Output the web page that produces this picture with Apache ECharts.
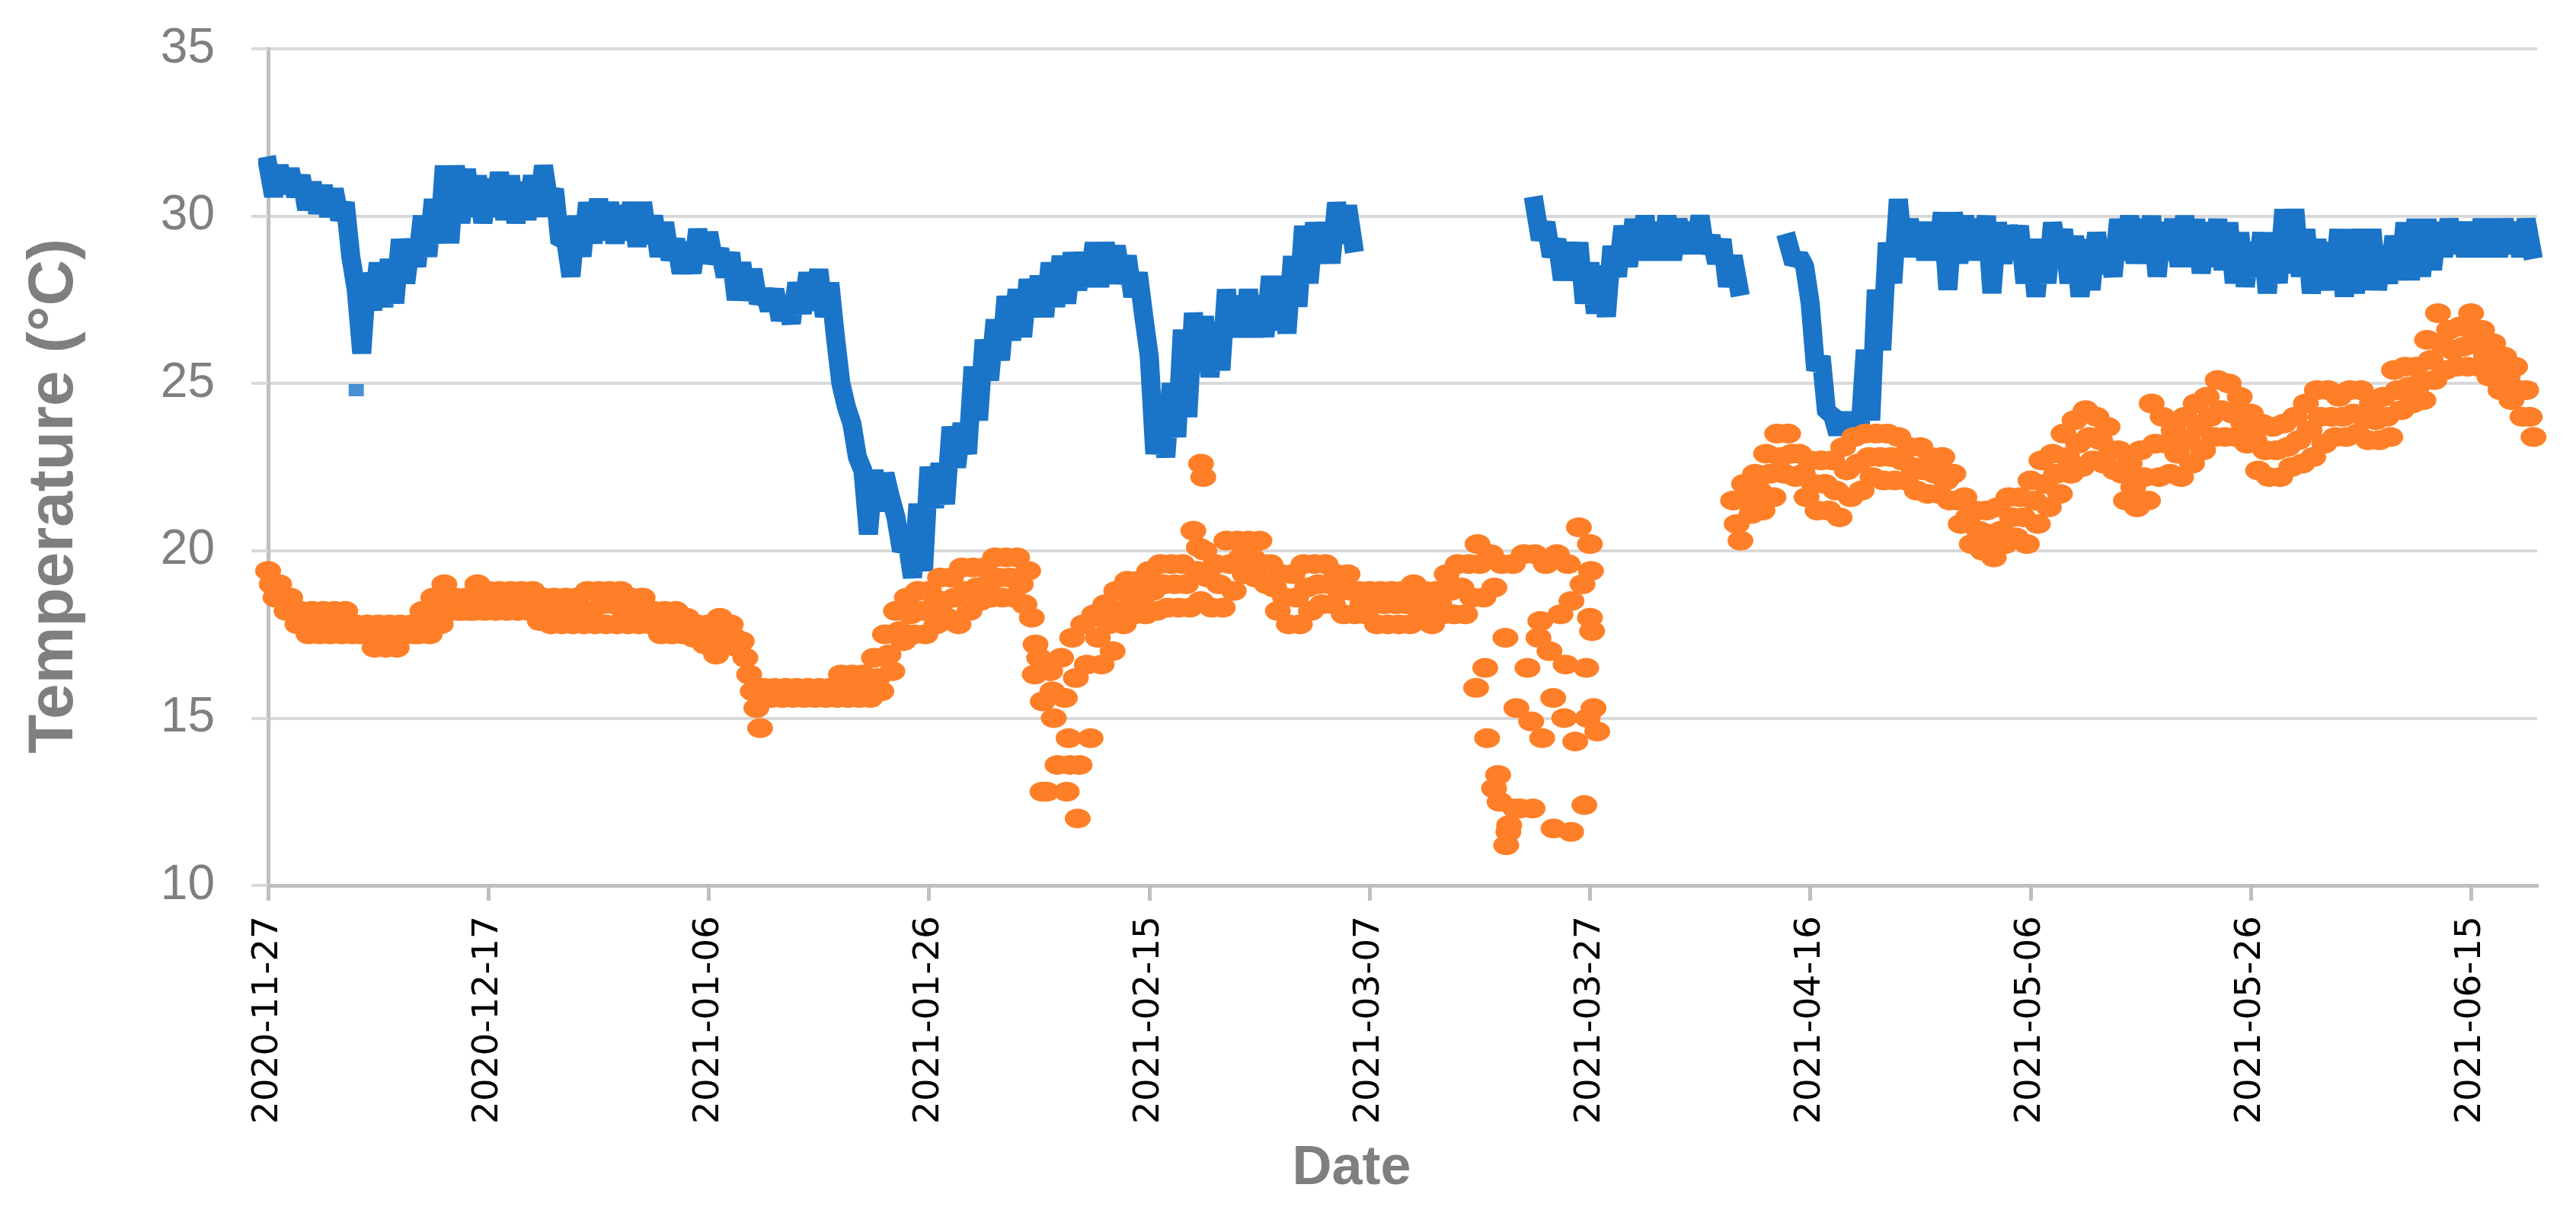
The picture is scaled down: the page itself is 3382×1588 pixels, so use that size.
<!DOCTYPE html>
<html>
<head>
<meta charset="utf-8">
<script src="https://cdn.jsdelivr.net/npm/echarts@6/dist/echarts.min.js"></script>
<style>
html,body{margin:0;padding:0;background:#fff;}
#chart{width:3382px;height:1588px;}
</style>
</head>
<body>
<div id="chart"></div>
<script>
// ---- DATA (one value per day, day 0 = 2020-11-27) ----
const startDate = '2020-11-27';
const xTickLabels = ['2020-11-27','2020-12-17','2021-01-06','2021-01-26','2021-02-15','2021-03-07','2021-03-27','2021-04-16','2021-05-06','2021-05-26','2021-06-15'];
const xEndDate = '2021-06-21';
const yTicks = [10, 15, 20, 25, 30, 35];

// Blue series: daily high / daily low readings (°C), null = no data
const blueHi = [
31.5,31.5,31.4,31.2,31.0,30.9,30.8,30.4,27.8,28.3,
28.6,28.7,29.3,29.3,30.0,30.5,31.5,31.5,31.4,31.2,
31.1,31.3,31.2,31.0,31.2,31.5,30.8,29.3,30.0,30.4,
30.5,30.4,30.3,30.4,30.4,30.0,29.8,29.3,29.2,29.6,
29.5,29.0,28.9,28.6,28.4,27.8,27.8,27.5,28.0,28.3,
28.4,28.0,25.0,23.8,22.4,22.4,22.3,21.0,20.3,21.4,
22.5,22.6,23.7,23.8,25.5,26.3,26.9,27.6,27.8,28.1,
28.2,28.6,28.8,28.9,28.9,29.2,29.2,29.1,28.8,28.3,
25.8,24.3,25.0,26.6,27.1,27.0,26.8,27.8,27.6,27.8,
27.6,28.2,28.2,28.8,29.7,29.8,29.8,30.4,30.3,null,
null,null,null,null,null,null,null,null,null,null,
null,null,null,null,null,30.3,29.8,29.3,29.2,29.2,
28.6,28.5,29.1,29.7,29.9,30.0,29.8,30.0,29.9,29.8,
30.0,29.4,29.3,28.8,null,null,null,null,29.2,28.8,
27.4,25.8,24.1,24.1,24.0,26.0,27.8,29.2,30.5,29.9,
29.8,29.8,30.1,30.1,30.0,29.9,30.0,29.8,29.7,29.7,
29.3,29.3,29.8,29.6,29.4,29.3,29.5,29.2,29.9,30.0,
29.9,30.0,29.8,29.9,30.0,29.9,29.8,29.9,29.8,29.5,
29.2,29.5,29.5,30.2,30.2,29.6,29.3,29.2,29.6,29.6,
29.6,29.6,29.1,29.4,29.8,29.9,29.9,29.8,29.9,29.8,
29.8,29.9,29.9,29.9,29.8,29.9
];
const blueLo = [
30.6,30.7,30.6,30.2,30.1,30.0,29.9,28.8,25.9,27.2,
27.3,27.4,28.0,28.5,28.8,29.2,29.2,29.8,30.0,29.8,
30.0,29.9,29.8,29.9,30.0,30.4,29.2,28.2,28.8,29.2,
29.3,29.2,29.3,29.1,29.2,28.8,28.7,28.3,28.3,28.6,
28.6,28.2,27.5,27.5,27.4,27.2,26.9,26.8,27.1,27.2,
27.0,26.4,24.3,22.8,20.5,21.2,21.6,20.0,19.2,19.4,
21.3,21.4,22.5,22.9,23.9,25.1,25.7,26.3,26.4,27.0,
27.0,27.3,27.4,27.8,27.9,27.9,28.0,28.0,27.6,27.0,
22.9,22.8,23.4,24.0,25.6,25.2,25.4,26.4,26.4,26.4,
26.4,26.6,26.5,27.3,28.0,28.6,28.6,29.2,29.2,null,
null,null,null,null,null,null,null,null,null,null,
null,null,null,null,null,29.3,28.8,28.1,28.1,27.4,
27.1,27.0,28.2,28.5,28.7,28.7,28.7,28.7,28.9,28.9,
28.9,28.6,27.9,27.9,null,null,null,null,28.6,28.5,
25.4,24.1,23.5,23.5,23.5,23.9,26.0,28.0,28.8,28.8,
28.7,28.7,27.8,28.6,28.7,28.7,27.7,28.6,28.9,28.0,
27.6,28.0,28.7,28.0,27.6,27.8,28.3,28.2,28.7,28.6,
28.6,28.2,28.7,28.5,28.5,28.3,28.5,28.4,28.0,27.9,
28.2,27.7,28.0,28.3,28.2,27.7,27.8,27.8,27.6,27.7,
27.8,27.8,28.0,28.1,28.1,28.2,28.4,28.8,28.9,28.8,
28.8,28.8,28.8,28.9,28.8,29.0
];
// isolated blue reading
const blueExtraDays = [8.0];
const blueExtraVals = [24.8];

// Orange series: three readings per day (high, middle, low), null = no data
const orangeHi = [
19.4,19.0,18.6,18.2,18.2,18.2,18.2,18.2,17.8,17.8,
17.8,17.8,17.8,17.8,18.2,18.6,19.0,18.6,18.6,19.0,
18.8,18.8,18.8,18.8,18.8,18.6,18.6,18.6,18.6,18.8,
18.8,18.8,18.8,18.6,18.6,18.2,18.2,18.2,18.0,17.8,
17.8,18.0,17.8,17.3,15.8,15.9,15.9,15.9,15.9,15.9,
15.9,15.9,16.3,16.3,16.3,16.8,17.5,18.2,18.6,18.8,
18.8,19.2,19.2,19.5,19.5,19.5,19.8,19.8,19.8,19.4,
16.8,16.4,16.8,17.4,17.8,18.1,18.4,18.8,19.1,19.1,
19.4,19.6,19.6,19.6,20.6,20.0,19.6,20.3,20.3,20.3,
20.3,19.6,19.3,19.3,19.6,19.6,19.6,19.3,19.3,18.8,
18.8,18.8,18.8,18.8,19.0,18.8,18.8,19.3,19.6,19.6,
19.6,19.9,19.6,19.6,19.9,19.9,19.6,19.9,19.6,20.7,
18.0,null,null,null,null,null,null,null,null,null,
null,null,null,21.5,22.0,22.3,22.9,23.5,23.5,22.9,
22.7,22.7,22.7,23.1,23.4,23.5,23.5,23.5,23.4,23.1,
23.1,22.8,22.8,22.3,21.6,21.2,21.2,21.3,21.6,21.6,
22.1,22.7,22.9,23.5,23.9,24.2,24.0,23.7,23.0,22.6,
23.0,24.4,24.0,23.6,24.0,24.4,24.6,25.1,25.0,24.6,
24.1,23.8,23.7,23.8,24.0,24.4,24.8,24.8,24.6,24.8,
24.8,24.4,24.6,25.4,25.5,25.5,26.3,27.1,26.6,26.7,
27.1,26.6,26.2,25.8,25.5,24.8
];
const orangeMid = [
19.0,18.6,18.2,17.8,17.8,17.8,17.8,17.8,17.5,17.5,
17.5,17.5,17.5,17.5,17.8,18.2,18.6,18.2,18.2,18.6,
18.5,18.5,18.5,18.5,18.5,18.2,18.2,18.2,18.2,18.2,
18.4,18.4,18.2,18.2,18.2,17.8,17.8,17.8,17.7,17.4,
17.4,17.6,17.4,16.8,15.3,15.7,15.7,15.7,15.7,15.7,
15.7,15.7,15.9,15.9,15.9,16.2,16.9,17.6,18.1,18.2,
18.3,18.5,18.6,18.8,18.9,19.0,19.2,19.2,19.0,18.0,
15.5,15.0,15.6,16.2,16.6,17.4,17.8,18.2,18.6,18.6,
18.8,19.0,19.0,19.0,19.4,19.2,19.0,19.6,19.8,19.8,
19.6,18.9,18.6,18.6,18.9,19.0,19.0,18.8,18.8,18.4,
18.4,18.4,18.4,18.4,18.5,18.4,18.4,18.8,18.9,18.6,
18.6,18.9,17.4,15.3,16.5,17.4,17.0,18.1,18.5,19.0,
15.3,null,null,null,null,null,null,null,null,null,
null,null,null,20.8,21.5,21.8,22.3,22.8,22.9,22.3,
22.0,22.0,21.8,22.4,22.6,22.8,22.8,22.8,22.7,22.5,
22.4,22.3,22.1,21.5,21.0,20.6,20.5,20.6,21.0,21.0,
21.5,22.0,22.3,22.8,23.2,23.4,23.3,23.0,22.3,21.9,
22.2,23.2,23.2,22.9,23.3,23.7,24.0,24.2,24.1,23.8,
23.3,23.0,23.0,23.1,23.3,23.6,24.0,24.0,24.0,24.1,
24.0,23.9,24.0,24.8,24.9,25.0,25.7,26.2,26.0,26.1,
26.3,25.9,25.5,25.2,24.8,24.0
];
const orangeLo = [
18.6,18.2,17.8,17.5,17.5,17.5,17.5,17.5,17.5,17.1,
17.1,17.1,17.5,17.5,17.5,17.8,18.2,18.2,18.2,18.2,
18.2,18.2,18.2,18.2,17.9,17.8,17.8,17.8,17.8,17.8,
17.8,17.8,17.8,17.8,17.8,17.5,17.5,17.5,17.4,17.2,
16.9,17.3,17.1,16.3,14.7,15.6,15.6,15.6,15.6,15.6,
15.6,15.6,15.6,15.6,15.6,15.8,16.4,17.3,17.5,17.5,
17.8,18.0,17.8,18.2,18.5,18.6,18.6,18.6,18.4,17.2,
12.8,13.6,14.4,13.6,14.4,16.6,17.0,17.8,18.1,18.1,
18.2,18.3,18.3,18.3,18.5,18.3,18.3,18.8,19.3,19.2,
19.0,18.2,17.8,17.8,18.2,18.4,18.4,18.1,18.1,18.1,
17.8,17.8,17.8,17.8,18.1,17.8,18.1,18.1,18.1,15.9,
14.4,13.3,11.8,12.3,14.9,14.4,15.6,15.0,14.3,16.5,
14.6,null,null,null,null,null,null,null,null,null,
null,null,null,20.3,21.1,21.2,21.6,22.3,22.2,21.6,
21.2,21.2,21.0,21.6,21.8,22.2,22.1,22.1,22.1,21.8,
21.7,21.7,21.5,20.8,20.2,20.0,19.8,20.2,20.4,20.2,
20.8,21.3,21.7,22.3,22.5,22.7,22.6,22.4,21.5,21.3,
21.5,22.2,22.3,22.2,22.6,23.0,23.4,23.4,23.4,23.2,
22.4,22.2,22.2,22.5,22.6,22.8,23.2,23.4,23.4,23.5,
23.3,23.3,23.4,24.2,24.4,24.5,25.1,25.4,25.5,25.5,
25.5,25.2,24.8,24.5,24.0,23.4
];
// scattered extra orange readings (day offset, value)
const orangeExtraDays = [69.6,70.3,71.2,72.5,72.8,73.5,84.5,84.7,84.9,109.8,110.5,111.3,111.8,112.4,112.6,113.2,114.8,115.5,116.7,117.8,118.3,119.5,119.8,120.0,120.1,120.2];
const orangeExtraVals = [16.3,12.8,15.8,12.8,13.6,12.0,20.1,22.6,22.2,20.2,16.5,12.9,12.5,11.2,11.6,12.3,12.3,17.9,11.7,16.6,11.6,12.4,15.0,20.2,19.4,17.6];

// ---- BUILD ----
const DAY = 86400000;
const t0 = Date.parse(startDate + 'T00:00:00Z');
const toDay = s => Math.round((Date.parse(s + 'T00:00:00Z') - t0) / DAY);
const dayToLabel = v => new Date(t0 + Math.round(v) * DAY).toISOString().slice(0, 10);
const tickDays = xTickLabels.map(toDay);
const xMax = toDay(xEndDate);

const blueData = [];
blueHi.forEach((h, d) => {
  if (h == null) { blueData.push([d, '-']); return; }
  blueData.push([d, h]);
  blueData.push([d + 0.5, blueLo[d]]);
});
const blueExtra = blueExtraDays.map((d, i) => [d, blueExtraVals[i]]);

const orangeData = [];
orangeHi.forEach((h, d) => {
  if (h == null) return;
  orangeData.push([d, h]);
  orangeData.push([d + 0.33, orangeMid[d]]);
  orangeData.push([d + 0.67, orangeLo[d]]);
});
orangeExtraDays.forEach((d, i) => orangeData.push([d, orangeExtraVals[i]]));

const BLUE = '#1a74c8';
const ORANGE = '#fe7f27';

const chart = echarts.init(document.getElementById('chart'), null, { renderer: 'canvas' });
chart.setOption({
  animation: false,
  backgroundColor: '#ffffff',
  grid: { left: 352, right: 51, top: 64, bottom: 426, containLabel: false },
  xAxis: {
    type: 'value',
    min: 0, max: xMax, interval: 20,
    name: 'Date',
    nameLocation: 'middle',
    nameGap: 336,
    nameTextStyle: { fontFamily: 'Liberation Sans', fontWeight: 'bold', fontSize: 72, color: '#7f7f7f', padding: [0, 134, 0, 0] },
    axisLine: { show: true, lineStyle: { color: '#bfbfbf', width: 5 } },
    axisTick: { show: true, length: 20, customValues: tickDays, lineStyle: { color: '#bfbfbf', width: 5 } },
    axisLabel: {
      rotate: 90, margin: 40, fontFamily: 'DejaVu Sans', fontSize: 47, color: '#000000',
      customValues: tickDays,
      formatter: v => dayToLabel(v)
    },
    splitLine: { show: false }
  },
  yAxis: {
    type: 'value',
    min: yTicks[0], max: yTicks[yTicks.length - 1], interval: 5,
    name: 'Temperature (°C)',
    nameLocation: 'middle',
    nameGap: 238,
    nameTextStyle: { fontFamily: 'Liberation Sans', fontWeight: 'bold', fontSize: 84, color: '#7f7f7f', padding: [0, 76, 0, 0] },
    axisLine: { show: true, lineStyle: { color: '#bfbfbf', width: 5 } },
    axisTick: { show: true, length: 22, lineStyle: { color: '#d9d9d9', width: 4 } },
    axisLabel: { margin: 70, fontFamily: 'Liberation Sans', fontSize: 64, color: '#7f7f7f' },
    splitLine: { show: true, lineStyle: { color: '#d9d9d9', width: 4 } }
  },
  series: [
    {
      name: 'Blue', type: 'line', data: blueData,
      showSymbol: false, connectNulls: false, z: 2,
      lineStyle: { color: BLUE, width: 25, join: 'bevel', cap: 'square' },
      itemStyle: { color: BLUE }
    },
    {
      name: 'BlueExtra', type: 'scatter', data: blueExtra, symbol: 'rect', symbolSize: [20, 16], z: 2,
      itemStyle: { color: BLUE }
    },
    {
      name: 'Orange', type: 'scatter', data: orangeData, symbol: 'circle', symbolSize: [34, 26], z: 3,
      itemStyle: { color: ORANGE, opacity: 1 }, large: false
    }
  ]
});
</script>
</body>
</html>
